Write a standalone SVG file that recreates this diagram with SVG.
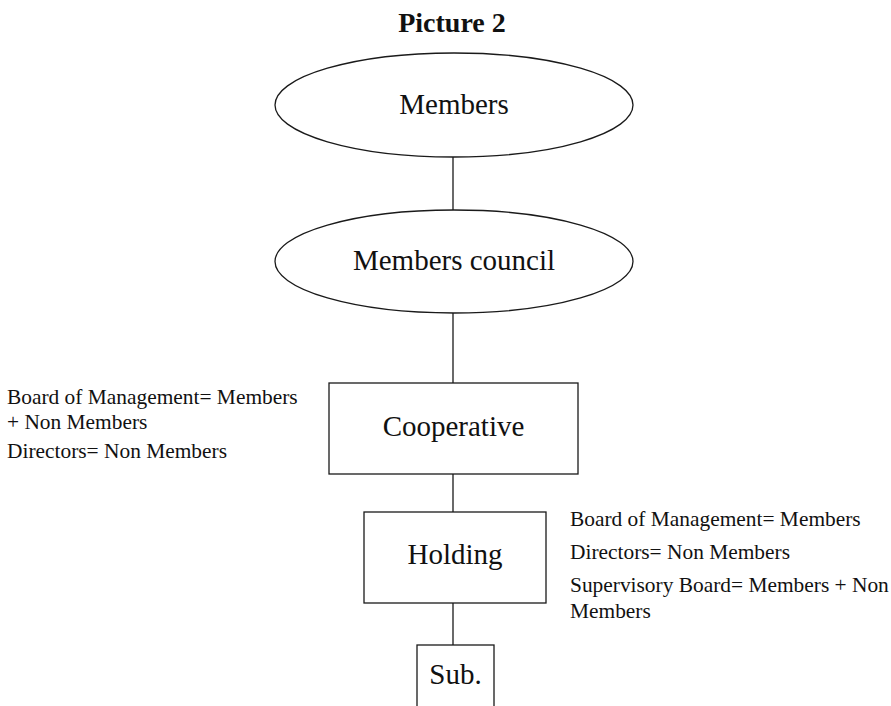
<svg xmlns="http://www.w3.org/2000/svg" width="891" height="706" viewBox="0 0 891 706">
<style>
.shape{fill:#fff;stroke:#1a1a1a;stroke-width:1.3}
.conn line{stroke:#1a1a1a;stroke-width:1.3}
.lbl{font-family:"Liberation Serif","Times New Roman",serif;font-size:29px;fill:#111;text-anchor:middle}
.note{font-family:"Liberation Serif","Times New Roman",serif;font-size:21.4px;fill:#111}
.title{font-family:"Liberation Serif","Times New Roman",serif;font-size:28px;font-weight:bold;fill:#111;text-anchor:middle}
</style>
<rect width="891" height="706" fill="#fff"/>
<text class="title" x="452" y="32">Picture 2</text>
<g class="conn">
<line x1="453" y1="157" x2="453" y2="210"/>
<line x1="453" y1="313" x2="453" y2="383"/>
<line x1="453" y1="474" x2="453" y2="512"/>
<line x1="453" y1="603" x2="453" y2="645"/>
</g>
<g id="members">
<ellipse class="shape" cx="454" cy="105" rx="179" ry="52"/>
<text class="lbl" x="454" y="114">Members</text>
</g>
<g id="members-council">
<ellipse class="shape" cx="454" cy="261.5" rx="179" ry="51.5"/>
<text class="lbl" x="454" y="270">Members council</text>
</g>
<g id="cooperative">
<rect class="shape" x="329" y="383" width="249" height="91"/>
<text class="lbl" x="453.5" y="436">Cooperative</text>
</g>
<g id="holding">
<rect class="shape" x="364" y="512" width="182" height="91"/>
<text class="lbl" x="455" y="564">Holding</text>
</g>
<g id="sub">
<rect class="shape" x="417" y="645" width="77" height="70"/>
<text class="lbl" x="455.5" y="684">Sub.</text>
</g>
<g id="notes-cooperative">
<text class="note" x="7" y="404">Board of Management= Members</text>
<text class="note" x="7" y="429">+ Non Members</text>
<text class="note" x="7" y="458">Directors= Non Members</text>
</g>
<g id="notes-holding">
<text class="note" x="570" y="526">Board of Management= Members</text>
<text class="note" x="570" y="559">Directors= Non Members</text>
<text class="note" x="570" y="592">Supervisory Board= Members + Non</text>
<text class="note" x="570" y="618">Members</text>
</g>
</svg>
